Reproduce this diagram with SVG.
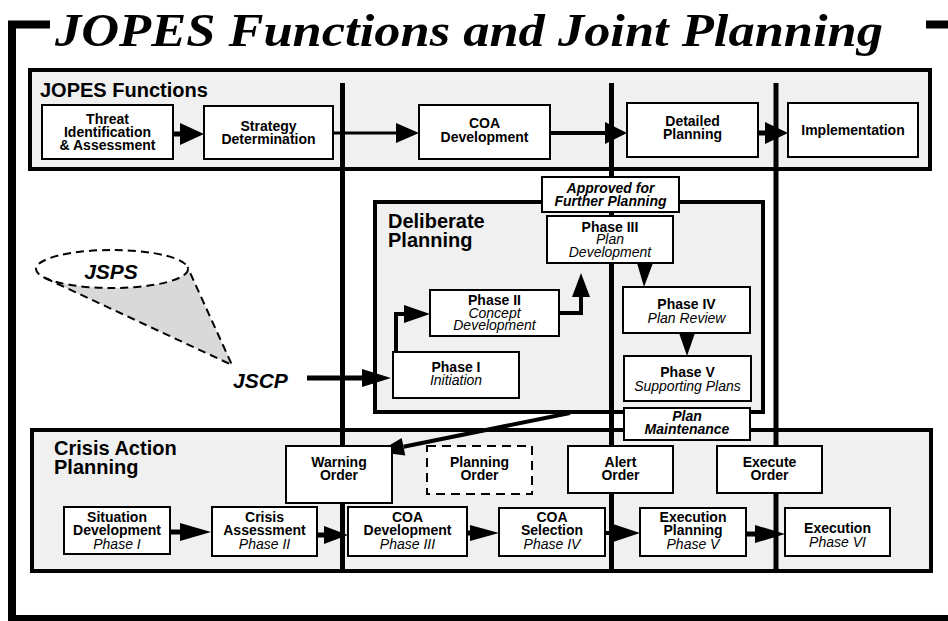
<svg xmlns="http://www.w3.org/2000/svg" width="948" height="621" viewBox="0 0 948 621">
<style>
.panel{fill:#f0f0f0;stroke:#000;stroke-width:4}
.box{fill:#fff;stroke:#000;stroke-width:2}
.dbox{fill:#fff;stroke:#000;stroke-width:2;stroke-dasharray:9 6}
.frame{fill:none;stroke:#000;stroke-width:8}
.vl{stroke:#000;stroke-width:5;fill:none}
.ln{stroke:#000;fill:none}
.ah{fill:#000}
text{font-family:"Liberation Sans",Arial,Helvetica,sans-serif;fill:#000}
.t{font-size:14px;font-weight:bold;text-anchor:middle}
.i{font-size:14px;font-style:italic;text-anchor:middle}
.bi{font-size:14px;font-weight:bold;font-style:italic;text-anchor:middle}
.lab{font-size:20px;font-weight:bold}
.big{font-size:21px;font-weight:bold;font-style:italic}
.title{font-family:"Liberation Serif","Times New Roman",serif;font-size:47px;font-weight:bold;font-style:italic}
.dash{stroke:#000;stroke-width:2;stroke-dasharray:8 5;fill:none}
</style>

<!-- outer frame & title -->
<path class="frame" d="M50,24.5 H12 V619 H948"/>
<path class="frame" d="M926,24.5 H948"/>
<text class="title" x="55" y="46" textLength="828" lengthAdjust="spacingAndGlyphs">JOPES Functions and Joint Planning</text>

<!-- panels -->
<g id="panel-jopes">
<rect class="panel" x="30" y="70" width="900" height="99"/>
<text class="lab" x="40" y="97">JOPES Functions</text>
</g>
<g id="panel-cap">
<rect class="panel" x="32" y="430" width="899" height="141"/>
<text class="lab" x="54" y="455">Crisis Action</text>
<text class="lab" x="54" y="474">Planning</text>
</g>
<g id="panel-deliberate">
<rect class="panel" x="375" y="202" width="388" height="210"/>
<text class="lab" x="388" y="228">Deliberate</text>
<text class="lab" x="388" y="247">Planning</text>
</g>

<!-- phase divider lines -->
<g id="dividers">
<line class="vl" x1="342.5" y1="83" x2="342.5" y2="571"/>
<line class="vl" x1="611.5" y1="83" x2="611.5" y2="571"/>
<line class="vl" x1="776" y1="83" x2="776" y2="571"/>
</g>

<!-- JSPS cone -->
<g id="jsps">
<path d="M45,278 A76,19 0 0 0 187.5,267 L232,365 Z" fill="#d9d9d9"/>
<ellipse class="dash" cx="112" cy="269" rx="76" ry="19"/>
<path class="dash" d="M45,278 L232,365 L187.5,267"/>
<text class="big" x="111" y="279" text-anchor="middle">JSPS</text>
</g>
<g id="jscp">
<text class="big" x="233" y="388">JSCP</text>
</g>

<!-- connectors -->
<g id="connectors">
<path class="ln" stroke-width="5" d="M173,134 H183"/>
<polygon class="ah" points="180,123 204,134 180,145"/>
<path class="ln" stroke-width="3" d="M333,133 H398"/>
<polygon class="ah" points="396,123 419,133 396,143"/>
<path class="ln" stroke-width="4" d="M550,133 H607"/>
<polygon class="ah" points="605,122 627,133 605,144"/>
<path class="ln" stroke-width="5" d="M758,133 H767"/>
<polygon class="ah" points="765,122 788,133 765,144"/>

<path class="ln" stroke-width="5" d="M307,378 H364"/>
<polygon class="ah" points="362,369 391,378 362,387"/>
<path class="ln" stroke-width="4" d="M396,352 V314 H406"/>
<polygon class="ah" points="404,305 430,314 404,323"/>
<path class="ln" stroke-width="4" d="M559,313 H581 V295"/>
<polygon class="ah" points="572,297 581,273 590,297"/>
<polygon class="ah" points="637,263 653,263 644,287"/>
<polygon class="ah" points="679,333 695,333 687,356"/>

<path class="ln" stroke-width="4" d="M570,413 L403.5,446.7"/>
<polygon class="ah" points="378,452 405.3,455.5 401.7,437.9"/>

<path class="ln" stroke-width="5" d="M170,532 H182"/>
<polygon class="ah" points="180,523 211,532 180,541"/>
<path class="ln" stroke-width="5" d="M317,535 H326"/>
<polygon class="ah" points="324,526 348,535 324,544"/>
<path class="ln" stroke-width="5" d="M467,533 H472"/>
<polygon class="ah" points="470,525 499,533 470,541"/>
<path class="ln" stroke-width="4" d="M605,533 H615"/>
<polygon class="ah" points="613,524 640,533 613,542"/>
<path class="ln" stroke-width="5" d="M746,534 H757"/>
<polygon class="ah" points="755,525 785,534 755,543"/>
</g>

<!-- JOPES functions nodes -->
<g id="threat">
<rect class="box" x="42" y="105" width="131" height="54"/>
<text class="t" x="107.5" y="124">Threat</text>
<text class="t" x="107.5" y="137">Identification</text>
<text class="t" x="107.5" y="150">&amp; Assessment</text>
</g>
<g id="strategy">
<rect class="box" x="204" y="106" width="129" height="53"/>
<text class="t" x="268.5" y="131">Strategy</text>
<text class="t" x="268.5" y="144">Determination</text>
</g>
<g id="coa-dev-f">
<rect class="box" x="419" y="105" width="131" height="54"/>
<text class="t" x="484.5" y="128">COA</text>
<text class="t" x="484.5" y="142">Development</text>
</g>
<g id="detailed">
<rect class="box" x="627" y="103" width="131" height="54"/>
<text class="t" x="692.5" y="126">Detailed</text>
<text class="t" x="692.5" y="139">Planning</text>
</g>
<g id="implementation">
<rect class="box" x="788" y="103" width="130" height="54"/>
<text class="t" x="853" y="135">Implementation</text>
</g>

<!-- Deliberate planning nodes -->
<g id="approved">
<rect class="box" x="542" y="177" width="137" height="35"/>
<text class="bi" x="610.5" y="193">Approved for</text>
<text class="bi" x="610.5" y="206">Further Planning</text>
</g>
<g id="phase3">
<rect class="box" x="547" y="216" width="126" height="47"/>
<text class="t" x="610" y="232">Phase III</text>
<text class="i" x="610" y="244">Plan</text>
<text class="i" x="610" y="257">Development</text>
</g>
<g id="phase2">
<rect class="box" x="430" y="290" width="129" height="46"/>
<text class="t" x="494.5" y="305">Phase II</text>
<text class="i" x="494.5" y="318">Concept</text>
<text class="i" x="494.5" y="330">Development</text>
</g>
<g id="phase1">
<rect class="box" x="393" y="352" width="126" height="46"/>
<text class="t" x="456" y="372">Phase I</text>
<text class="i" x="456" y="385">Initiation</text>
</g>
<g id="phase4">
<rect class="box" x="623" y="287" width="127" height="46"/>
<text class="t" x="686.5" y="309">Phase IV</text>
<text class="i" x="686.5" y="323">Plan Review</text>
</g>
<g id="phase5">
<rect class="box" x="624" y="356" width="127" height="45"/>
<text class="t" x="687.5" y="377">Phase V</text>
<text class="i" x="687.5" y="391">Supporting Plans</text>
</g>
<g id="maintenance">
<rect class="box" x="624" y="408" width="126" height="32"/>
<text class="bi" x="687" y="421">Plan</text>
<text class="bi" x="687" y="434">Maintenance</text>
</g>

<!-- Crisis action planning nodes -->
<g id="warning">
<rect class="box" x="286" y="446" width="106" height="57"/>
<text class="t" x="339" y="467">Warning</text>
<text class="t" x="339" y="480">Order</text>
</g>
<g id="planning-order">
<rect class="dbox" x="427" y="446" width="105" height="48"/>
<text class="t" x="479.5" y="467">Planning</text>
<text class="t" x="479.5" y="480">Order</text>
</g>
<g id="alert">
<rect class="box" x="568" y="446" width="105" height="47"/>
<text class="t" x="620.5" y="467">Alert</text>
<text class="t" x="620.5" y="480">Order</text>
</g>
<g id="execute-order">
<rect class="box" x="717" y="446" width="105" height="47"/>
<text class="t" x="769.5" y="467">Execute</text>
<text class="t" x="769.5" y="480">Order</text>
</g>
<g id="situation">
<rect class="box" x="64" y="507" width="106" height="47"/>
<text class="t" x="117" y="522">Situation</text>
<text class="t" x="117" y="535">Development</text>
<text class="i" x="117" y="549">Phase I</text>
</g>
<g id="crisis">
<rect class="box" x="212" y="507" width="105" height="49"/>
<text class="t" x="264.5" y="522">Crisis</text>
<text class="t" x="264.5" y="535">Assessment</text>
<text class="i" x="264.5" y="549">Phase II</text>
</g>
<g id="coa-dev">
<rect class="box" x="348" y="507" width="119" height="49"/>
<text class="t" x="407.5" y="522">COA</text>
<text class="t" x="407.5" y="535">Development</text>
<text class="i" x="407.5" y="549">Phase III</text>
</g>
<g id="coa-sel">
<rect class="box" x="499" y="508" width="106" height="48"/>
<text class="t" x="552" y="522">COA</text>
<text class="t" x="552" y="535">Selection</text>
<text class="i" x="552" y="549">Phase IV</text>
</g>
<g id="exec-planning">
<rect class="box" x="640" y="508" width="106" height="48"/>
<text class="t" x="693" y="522">Execution</text>
<text class="t" x="693" y="535">Planning</text>
<text class="i" x="693" y="549">Phase V</text>
</g>
<g id="execution">
<rect class="box" x="785" y="508" width="105" height="48"/>
<text class="t" x="837.5" y="533">Execution</text>
<text class="i" x="837.5" y="547">Phase VI</text>
</g>
</svg>
